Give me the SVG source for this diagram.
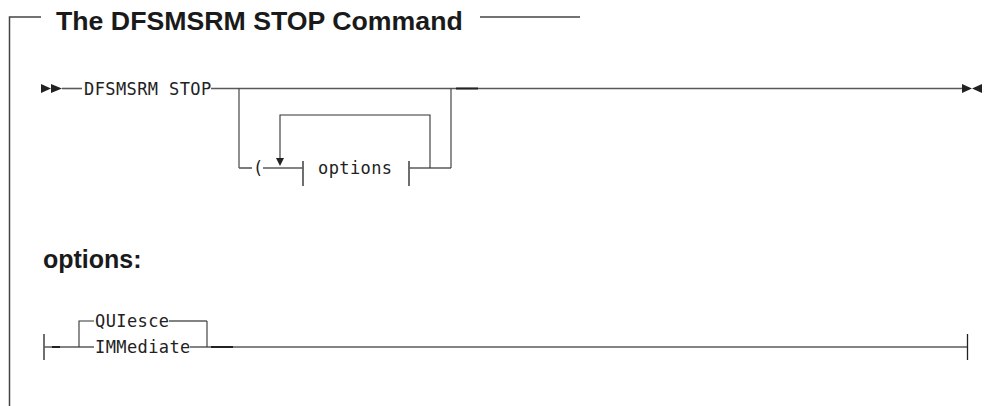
<svg xmlns="http://www.w3.org/2000/svg" width="1007" height="406" viewBox="0 0 1007 406">
<style>
.bg{fill:#ffffff}
.frame{stroke:#444;stroke-width:1.5;fill:none}
.title{font-family:"Liberation Sans",Arial,sans-serif;font-weight:bold;font-size:26.7px;fill:#1a1a1a}
.sub{font-family:"Liberation Sans",Arial,sans-serif;font-weight:bold;font-size:25px;fill:#1a1a1a}
.mono{font-family:"DejaVu Sans Mono","Liberation Mono",monospace;font-size:17px;letter-spacing:0.4px;fill:#222}
.h{stroke:#5a5a5a;stroke-width:1.6;fill:none}
.v{stroke:#333;stroke-width:1.1;fill:none}
.thick{stroke:#222;stroke-width:2;fill:none}
.bar{stroke:#222;stroke-width:1.3;fill:none}
.ah{fill:#222}
</style>
<rect class="bg" x="0" y="0" width="1007" height="406"/>
<g id="frame">
<path class="frame" d="M9.5,406 V17 H41"/>
<path class="frame" d="M480,17 H580"/>
</g>
<g id="title"><text class="title" x="56" y="30">The DFSMSRM STOP Command</text></g>
<g id="node-dfsmsrm-stop"><text class="mono" x="84" y="94.5">DFSMSRM STOP</text></g>
<g id="node-paren"><text class="mono" x="253" y="174">(</text></g>
<g id="node-options-ref">
<text class="mono" x="318" y="174">options</text>
<path class="bar" d="M303,161 V186 M409,161 V186"/>
</g>
<g id="heading-options"><text class="sub" x="43" y="268">options:</text></g>
<g id="node-quiesce"><text class="mono" x="95" y="327">QUIesce</text></g>
<g id="node-immediate"><text class="mono" x="95" y="353">IMMediate</text></g>
<g id="connectors">
<!-- main line -->
<polygon class="ah" points="41,84 51,88.5 41,93"/>
<polygon class="ah" points="51,84 62,88.5 51,93"/>
<path class="h" d="M62,88.5 H82"/>
<path class="h" d="M211,88.5 H962"/>
<path class="thick" d="M456,88.5 H478"/>
<polygon class="ah" points="962,84 972,88.5 962,93"/>
<polygon class="ah" points="982,84 972,88.5 982,93"/>
<!-- optional branch -->
<path class="v" d="M239,88.5 V168"/>
<path class="h" d="M239,168 H252"/>
<path class="h" d="M263,168 H303"/>
<path class="h" d="M409,168 H451"/>
<path class="v" d="M451,88.5 V168"/>
<!-- repeat loop -->
<path class="v" d="M430,168 V115 H280 V158"/>
<polygon class="ah" points="276,158 284,158 280,166"/>
<!-- options fragment -->
<path class="bar" d="M44,334 V360"/>
<path class="h" d="M44,347 H94"/>
<path class="thick" d="M52,347 H60"/>
<path class="v" d="M79,347 V321 H94"/>
<path class="h" d="M169,321 H207"/>
<path class="h" d="M190,347 H967"/>
<path class="v" d="M207,321 V347"/>
<path class="thick" d="M211,347 H233"/>
<path class="bar" d="M967.5,334 V360"/>
</g>
</svg>
